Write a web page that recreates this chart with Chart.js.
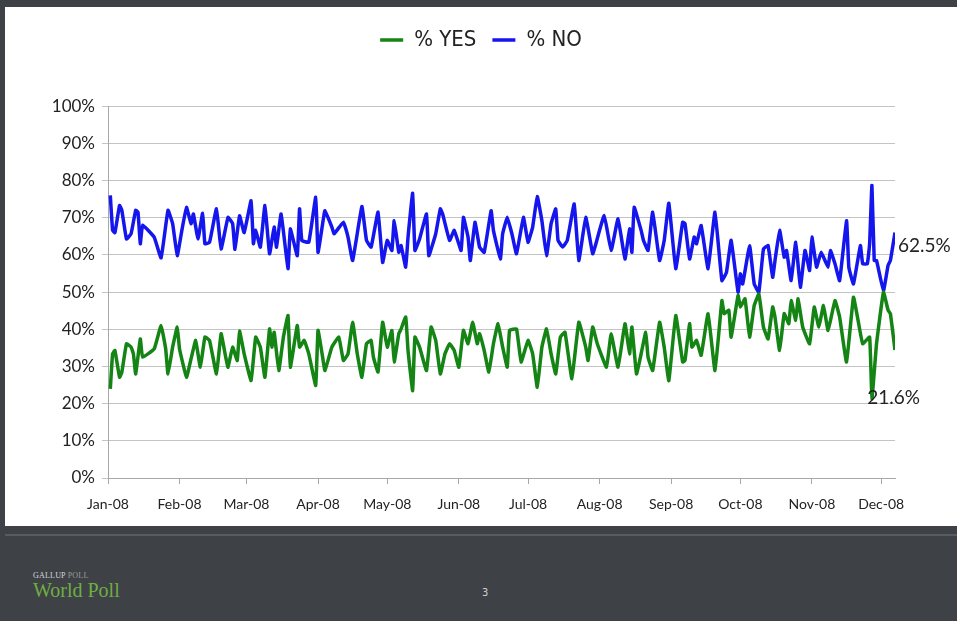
<!DOCTYPE html>
<html>
<head>
<meta charset="utf-8">
<script src="https://cdn.jsdelivr.net/npm/chart.js@4.4.1/dist/chart.umd.min.js"></script>
<style>
  html, body { margin: 0; padding: 0; }
  body { width: 957px; height: 621px; background: #3e4246; position: relative; overflow: hidden; }
  #panel { position: absolute; left: 5px; top: 7px; width: 952px; height: 519px; background: #fff; }
  #panel canvas { position: absolute; left: 0; top: 0; }
  #rule { position: absolute; left: 5px; top: 534px; width: 952px; height: 2px; background: #575c61; }
  #brand { position: absolute; left: 33px; top: 571px; font-family: "Liberation Serif", serif; }
  #brand .small { font-size: 8px; color: #d8d8d8; letter-spacing: 0.2px; }
  #brand .small span { color: #9a9a9a; }
  #brand .big { font-size: 20px; color: #6fae45; line-height: 18px; margin-top: 1px; }
  #page { position: absolute; left: 482px; top: 586px; font-family: "Liberation Sans Narrow", "DejaVu Sans Condensed", sans-serif; font-size: 11px; color: #d0d0d0; }
</style>
</head>
<body>
<div id="panel"><canvas id="chart" width="952" height="519"></canvas></div>
<div id="rule"></div>
<div id="brand"><div class="small">GALLUP <span>POLL</span></div><div class="big">World Poll</div></div>
<div id="page">3</div>
<script>
// mes: día del año (desde el 1 de enero de 2008) y etiqueta
const monthDay = [0, 31, 60, 91, 121, 152, 182, 213, 244, 274, 305, 335];
const monthLabel = ['Jan-08','Feb-08','Mar-08','Apr-08','May-08','Jun-08','Jul-08','Aug-08','Sep-08','Oct-08','Nov-08','Dec-08'];

// % NO (picos y valles)
const noDay = [1,2,3,5,6,8,10,12,13,14,15,20,23,26,28,30,32,34,36,37,39,41,42,44,47,49,52,54,55,57,59,62,63,64,66,68,70,72,73,75,78,79,82,83,84,87,90,91,93,94,97,98,102,104,106,110,112,114,117,119,121,123,124,126,127,129,130,132,133,135,138,139,142,144,145,148,150,153,154,156,157,159,161,163,166,167,170,171,173,175,177,180,182,184,186,188,190,192,194,195,197,199,202,204,207,210,211,215,218,221,224,226,227,228,231,232,234,236,239,241,243,246,249,250,252,254,255,257,260,263,266,268,270,273,274,275,278,280,282,284,286,288,289,291,293,294,296,298,300,302,304,305,307,309,312,313,315,317,320,321,323,326,327,329,330,331,332,333,336,338,339,341];
const noPct = [76,66.6,66,73.3,72,64.3,65.7,72,71.5,63,68,64.8,59.2,72,68.4,59.8,66.6,72.8,68.4,71,64.3,71.2,63,63.4,72.4,61.6,70.1,68.4,61.5,70.5,66,74.6,63,66.6,62.1,73.3,60.3,67.5,62.1,71,56.3,67,59.8,72.4,63.9,63.4,75.5,60.7,68.4,71.9,67.5,65.7,68.8,64.8,58.5,73,63.9,62.1,71.5,58,63.9,61.2,69.2,60.7,62.5,56.7,64.8,76.6,61.2,64.3,71,59.8,65.7,72.4,71,63.9,66.6,61.2,70.1,64.8,58.5,68.8,62.1,60.7,71.9,66.6,58.9,65.7,70.1,65.7,60.3,70.1,63.4,67.5,75.7,69.2,59.8,68.4,72.4,63.9,62.1,63.9,73.7,58.5,70.1,60.3,62.1,70.6,61.2,69.7,58.9,67,60.7,72.8,66.6,63.9,61.2,71.5,58.5,63.9,73.9,56.3,68.8,68.4,58.9,64.8,63,67.9,56.3,71.5,53.1,55.4,63.9,50,54.9,52.2,62.5,52.2,50,61.6,62.5,54,58.5,66.6,59.4,61.2,53.1,63.4,51.3,61.2,55.8,64.8,56.7,60.7,56.7,61.2,57.6,53.1,69.2,56.7,52.2,62.5,57.6,57.6,63,78.7,58.5,58.5,50.4,57.2,58.5,66];

// % YES
const yesDay = [1,2,3,5,6,8,10,11,12,14,15,20,23,25,26,28,30,31,34,36,38,40,42,44,47,49,51,52,54,56,57,59,62,64,66,68,70,71,72,74,76,78,79,82,83,85,87,90,91,93,94,97,100,102,104,106,108,110,112,114,115,117,119,121,123,124,126,127,129,130,132,133,135,138,140,142,144,146,148,150,152,154,156,158,160,161,163,165,167,169,171,173,174,177,179,182,184,186,188,190,192,194,196,198,201,204,207,208,210,212,216,218,221,224,226,227,229,231,233,234,236,239,241,243,246,249,250,252,253,255,257,260,263,266,267,269,270,273,274,276,278,280,282,284,286,288,289,291,293,295,296,298,299,301,304,306,308,310,312,315,317,320,323,325,327,330,331,333,336,338,339,341];
const yesPct = [24,33.4,34.3,27.1,28.5,36.1,35.2,33.4,28,37.4,32.5,34.7,41,34.7,28,35.2,40.6,34.7,27.1,32.1,37,29.8,37.9,37,28,38.8,32.5,29.8,35.2,31.6,39.5,33.4,26.2,37.9,35.2,27.1,40.1,35.2,39.2,28.9,37.9,43.7,29.8,41,35.2,37,33.4,24.9,39.7,32.5,28.9,35.2,37.9,31.6,33.4,41.9,33.4,27.1,36.1,37,32.5,28.5,41.9,35.2,39.7,31.2,38.8,40.1,43.3,34.3,23.5,37.9,35.2,28.9,40.6,37,28,33.4,36.1,34.3,29.8,39.7,36.1,41.9,36.1,38.8,34.3,28.5,36.1,41.5,35.2,29.8,39.7,40.1,31.2,37,33.4,24.4,35.2,40.1,33.4,28,37.9,39.2,26.7,41.9,35.2,31.6,40.6,36.1,29.8,38.8,29.8,41.5,33.4,40.6,28,33.4,39.2,32.5,28.9,41.9,35.2,26.2,43.7,31.2,31.6,41.5,35.2,37,33,44.2,28.9,47.7,44.2,45.1,37.9,49.1,46,48.2,37.9,46.4,49.5,40.6,37.4,46,43.3,34.3,44.2,41.5,47.7,42.4,48.2,40.6,36.1,46,40.6,46.4,39.7,47.7,43.3,31.2,48.6,42.4,36.1,37.9,21.3,36.1,50,45.1,44.2,34.4];

// etiquetas finales del gráfico
const endNotes = [
  { text: '62.5%', value: 62.5, day: null },
  { text: '21.6%', value: 21.6, day: 329 }
];

const tickFont = { family: 'Lato, "Open Sans", sans-serif', size: 17 };

const notesPlugin = {
  id: 'endNotes',
  afterDatasetsDraw(chart){
    const { ctx, chartArea, scales: { x, y } } = chart;
    ctx.save();
    ctx.fillStyle = '#222';
    ctx.font = '19px Lato, "Open Sans", sans-serif';
    ctx.textBaseline = 'middle';
    ctx.textAlign = 'left';
    endNotes.forEach(n => {
      const px = n.day == null ? chartArea.right + 3 : x.getPixelForValue(n.day);
      ctx.fillText(n.text, px, y.getPixelForValue(n.value));
    });
    ctx.restore();
  }
};

new Chart(document.getElementById('chart').getContext('2d'), {
  type: 'line',
  data: {
    datasets: [
      {
        label: '% YES',
        data: yesDay.map((d, i) => ({ x: d, y: yesPct[i] })),
        borderColor: '#148414',
        backgroundColor: '#148414',
        borderWidth: 3.5,
        pointRadius: 0,
        tension: 0.1
      },
      {
        label: '% NO',
        data: noDay.map((d, i) => ({ x: d, y: noPct[i] })),
        borderColor: '#1515ee',
        backgroundColor: '#1515ee',
        borderWidth: 3.5,
        pointRadius: 0,
        tension: 0.1
      }
    ]
  },
  options: {
    responsive: false,
    animation: false,
    layout: { padding: { top: 6, right: 0, bottom: 0, left: 0 } },
    scales: {
      x: {
        type: 'linear',
        min: 0,
        max: 341,
        afterBuildTicks: s => { s.ticks = monthDay.map(v => ({ value: v })); },
        afterFit: s => { s.height = 48; },
        ticks: {
          autoSkip: false,
          maxRotation: 0,
          padding: 12,
          color: '#222',
          font: { family: tickFont.family, size: 14 },
          callback: v => monthLabel[monthDay.indexOf(v)]
        },
        grid: { drawOnChartArea: false, color: '#a8a8a8', tickLength: 6 },
        border: { color: '#a8a8a8' }
      },
      y: {
        min: 0,
        max: 100,
        afterFit: s => { s.width = 103; },
        ticks: {
          stepSize: 10,
          padding: 7,
          color: '#222',
          font: tickFont,
          callback: v => v + '%'
        },
        grid: { color: '#c4c4c4', tickLength: 6 },
        border: { color: '#a8a8a8' }
      },
      // eje derecho vacío: deja sitio a las etiquetas finales
      yRight: {
        position: 'right',
        min: 0,
        max: 100,
        afterFit: s => { s.width = 62; },
        ticks: { display: false },
        grid: { display: false },
        border: { display: false }
      }
    },
    plugins: {
      legend: {
        position: 'top',
        labels: {
          usePointStyle: true,
          pointStyle: 'line',
          pointStyleWidth: 23,
          padding: 16,
          color: '#222',
          font: { family: '"Liberation Sans Narrow", "DejaVu Sans Condensed", sans-serif', size: 22 }
        }
      },
      title: {
        display: true,
        text: '',
        weight: 500,
        padding: { top: 0, bottom: 44 },
        font: { size: 1 }
      },
      tooltip: { enabled: false }
    }
  },
  plugins: [notesPlugin]
});
</script>
</body>
</html>
